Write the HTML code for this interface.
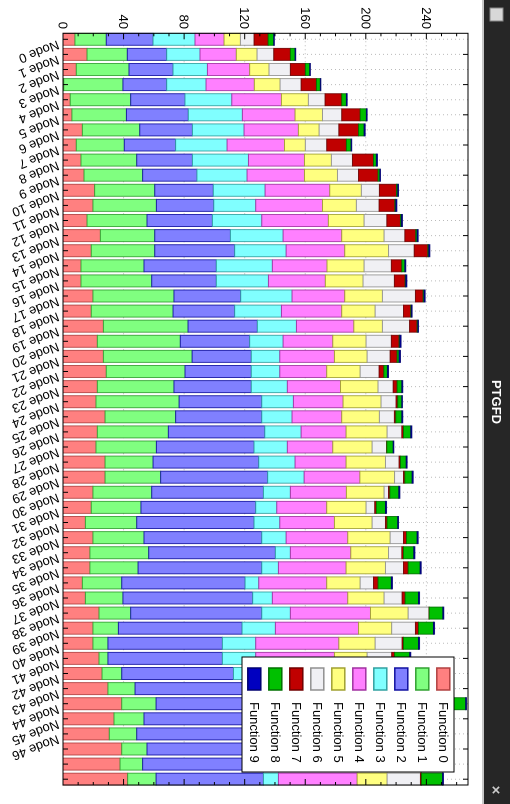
<!DOCTYPE html>
<html><head><meta charset="utf-8"><style>
html,body{margin:0;padding:0;background:#fff;width:510px;height:804px;overflow:hidden}
svg{display:block;font-family:"Liberation Sans",sans-serif}
</style></head><body>
<svg id="chart" width="510" height="804" viewBox="0 0 510 804" xmlns="http://www.w3.org/2000/svg">
<rect x="0" y="0" width="510" height="804" fill="#fff"/>
<g id="rot" transform="translate(510,0) rotate(90)">
  <rect x="0" y="0" width="804" height="27" fill="#262626"/>
  <rect x="0" y="26" width="804" height="2" fill="#c8c8c8"/>
  <rect x="8" y="7" width="13" height="13" fill="#d8d8d8" stroke="#888" />
  <text x="402" y="18" fill="#fff" font-size="13" font-weight="bold" text-anchor="middle">PTGFD</text>
  <text x="790" y="19" fill="#ccc" font-size="15" font-weight="bold" text-anchor="middle">×</text>
  <g id="grid"></g>
  <g id="bars"></g>
  <rect x="33.3" y="42" width="751.7" height="405" fill="none" stroke="#000" stroke-width="1"/>
  <g id="axes"></g>
  <g id="legend"></g>
</g>
</svg>
<script>
const categories = Array.from({length:50},(_,i)=>'Node '+i);
const labelCount = 47;
const f0=[7.9,15.9,8.8,0.5,4.8,5.9,12.8,8.8,11.9,13.9,20.9,19.8,15.9,24.7,18.7,11.9,11.9,19.8,18.7,26.7,22.7,26.7,28.6,22.7,21.8,27.8,22.7,21.8,27.8,27.8,19.8,18.7,14.8,19.8,17.8,17.8,12.8,14.8,23.8,19.8,19.8,23.8,25.8,29.7,38.8,33.7,30.6,38.8,37.7,42.7];
const f1=[20.7,26.6,34.8,39.1,39.9,36.0,37.9,31.7,36.8,38.7,39.7,41.9,39.6,35.9,41.9,41.6,46.7,53.5,54.0,55.9,54.8,58.6,52.0,50.6,54.9,46.6,46.9,39.9,31.7,36.7,38.8,32.8,33.9,33.7,38.8,31.8,26.0,24.8,20.9,16.8,9.9,5.9,13.0,17.9,22.7,19.8,18.1,16.7,14.9,18.8];
const f2=[30.9,26.0,29.1,28.9,35.9,40.9,34.8,33.9,36.8,35.9,38.7,37.9,43.2,50.0,52.8,47.8,42.7,44.1,40.7,45.8,45.8,39.1,43.8,51.1,54.6,56.9,63.7,64.5,69.8,70.7,73.8,75.8,77.5,77.8,83.7,81.7,81.5,85.7,86.6,81.7,75.6,75.6,73.8,77.4,78.5,74.5,71.3,69.5,77.4,70.9];
const f3=[27.7,22.0,22.7,26.0,30.9,35.7,34.1,34.0,37.0,33.1,34.2,27.7,32.6,34.8,34.0,37.0,34.4,33.9,30.9,25.8,22.1,18.8,18.8,23.8,20.9,20.0,24.0,22.0,24.0,24.1,17.8,13.9,17.0,16.1,9.9,11.0,9.0,13.0,18.9,22.0,22.0,22.0,17.4,15.0,20.0,17.0,18.0,15.0,15.0,9.9];
const f4=[19.2,24.0,27.9,31.9,32.8,34.8,35.9,37.9,37.0,37.9,42.7,44.1,44.0,38.7,38.7,36.1,37.6,34.8,39.8,37.9,32.8,36.1,31.0,35.1,32.8,32.8,29.7,30.0,33.7,36.8,37.0,33.0,36.1,40.7,39.9,44.7,44.9,49.8,52.9,54.9,54.9,52.0,50.0,50.0,50.0,50.0,47.0,50.0,47.0,52.0];
const f5=[10.8,13.7,12.8,17.0,17.8,18.1,13.7,13.8,17.8,21.8,20.9,22.4,23.6,28.0,28.9,24.5,24.9,24.9,22.1,18.9,22.0,21.6,22.1,24.8,25.1,24.9,27.1,26.0,26.0,22.9,24.9,26.0,24.9,28.0,24.9,26.0,22.1,24.0,24.9,21.9,24.0,21.6,25.0,22.0,20.0,20.0,20.0,22.0,23.0,19.8];
const f6=[9.0,11.0,14.1,13.9,11.0,12.7,13.0,14.1,13.9,13.9,11.9,15.0,15.0,13.7,17.0,18.0,20.7,21.8,18.7,17.9,16.7,15.2,12.5,10.0,9.9,9.9,9.7,9.5,9.0,5.9,2.9,5.7,8.8,8.8,8.8,11.9,8.8,11.9,13.9,15.7,17.8,16.2,17.0,16.0,18.0,15.0,17.0,18.0,17.0,22.0];
const f7=[9.3,11.0,9.9,10.1,11.0,12.2,13.0,13.0,13.9,12.9,11.3,10.4,9.0,7.2,9.0,6.9,7.1,5.1,4.8,5.0,5.1,4.6,3.1,2.6,1.1,0.9,1.1,0.2,0.9,0.9,0.9,1.1,1.1,2.0,1.1,3.1,3.0,2.0,0.0,2.0,0.9,1.9,2.0,2.0,2.0,2.0,2.0,2.0,2.0,0.7];
const f8=[3.7,3.1,2.9,2.6,3.1,4.1,3.7,3.1,1.9,1.2,0.8,0.6,0.7,0.9,0.6,2.0,0.4,0.6,0.5,0.5,0.5,1.3,2.4,3.1,2.7,4.0,4.8,4.2,3.8,4.8,5.9,6.0,7.0,7.0,6.8,7.9,8.8,8.8,9.0,9.9,9.9,10.0,8.0,8.0,16.0,8.0,8.0,10.0,10.0,13.9];
const f9=[0.4,0.4,0.4,0.3,0.5,0.5,0.7,0.4,0.7,0.4,0.5,0.7,0.6,0.7,0.7,0.6,0.7,0.7,0.4,0.4,0.8,0.9,0.7,0.6,0.4,0.6,0.7,0.4,0.6,0.7,0.7,0.7,0.5,0.7,0.7,0.7,0.7,0.7,0.6,0.7,0.7,0.7,0.5,0.5,0.5,0.5,0.5,0.5,0.5,0.6];
const seriesNames=['Function 0','Function 1','Function 2','Function 3','Function 4','Function 5','Function 6','Function 7','Function 8','Function 9'];
const valueTicks=[0,40,80,120,160,200,240];

const series=[f0,f1,f2,f3,f4,f5,f6,f7,f8,f9];
const fills=['#ff8080','#80ff80','#8080ff','#80ffff','#ff80ff','#ffff80','#f0f0f4','#c00000','#00c000','#0000c0'];
const strokes=['#b04040','#30a030','#1010a0','#30a0a0','#a030a0','#a0a030','#909090','#700000','#007000','#000070'];
const NS='http://www.w3.org/2000/svg';
const X0=33.3, PITCH=15.1, BW=12, Y0=447, PX=1.514, YTOP=42, XEND=785;
const xs=i=>X0+i*PITCH;
const yv=v=>Y0-v*PX;
function mk(tag,attrs,parent){const e=document.createElementNS(NS,tag);for(const k in attrs)e.setAttribute(k,attrs[k]);parent.appendChild(e);return e;}
const grid=document.getElementById('grid'),bars=document.getElementById('bars'),axes=document.getElementById('axes'),legend=document.getElementById('legend');

valueTicks.forEach(v=>{
  if(v===0)return;
  const g=mk('line',{x1:X0,x2:XEND,y1:yv(v),y2:yv(v),stroke:'#bbb','stroke-dasharray':'1,3'},grid);
  
  
});
categories.forEach((c,i)=>{
  const g=mk('line',{x1:xs(i)+BW/2,x2:xs(i)+BW/2,y1:YTOP,y2:Y0,stroke:'#bbb','stroke-dasharray':'1,3'},grid);
  
  
});

categories.forEach((c,i)=>{
  let cum=0;
  series.forEach((s,k)=>{
    const v=s[i];
    const r=mk('rect',{x:xs(i),y:yv(cum+v),width:BW,height:Math.max(v*PX,0.3),fill:fills[k],stroke:strokes[k],'stroke-width':1,'stroke-opacity':0.85},bars);
    
    
    cum+=v;
  });
});

// value axis ticks (both sides)
for(let v=0;v<=260;v+=10){
  const major=v%40===0;
  const len=major?6:3;
  mk('line',{x1:X0,x2:X0+len,y1:yv(v),y2:yv(v),stroke:'#000'},axes);
  mk('line',{x1:XEND,x2:XEND-len,y1:yv(v),y2:yv(v),stroke:'#000'},axes);
}
valueTicks.forEach(v=>{
  const t=mk('text',{x:29,y:yv(v)+4.5,'font-size':13,'text-anchor':'end',fill:'#000'},axes);
  t.textContent=v;
  
  
});
categories.forEach((c,i)=>{
  const cx=xs(i)+BW/2;
  mk('line',{x1:cx,x2:cx,y1:Y0,y2:Y0-5,stroke:'#000'},axes);
  if(i%2===1) mk('line',{x1:cx,x2:cx,y1:YTOP,y2:YTOP+5,stroke:'#000'},axes);
  if(i<labelCount){
    const tx=cx+1, ty=Y0+6;
    const t=mk('text',{x:tx,y:ty,'font-size':13,fill:'#000',transform:`rotate(69 ${tx} ${ty})`},axes);
    t.textContent=c;
    
    
  }
});

// legend
const lb=mk('rect',{x:657,y:56,width:115,height:212,fill:'#fff',stroke:'#000'},legend);


seriesNames.forEach((n,k)=>{
  const cy=66.7+k*21;
  const sw=mk('rect',{x:668,y:cy-6.5,width:22,height:13,fill:fills[k],stroke:strokes[k],'stroke-width':1.5},legend);
  
  
  const t=mk('text',{x:702,y:cy+4.5,'font-size':13,fill:'#000'},legend);
  t.textContent=n;
  
  
});
</script>
</body></html>
